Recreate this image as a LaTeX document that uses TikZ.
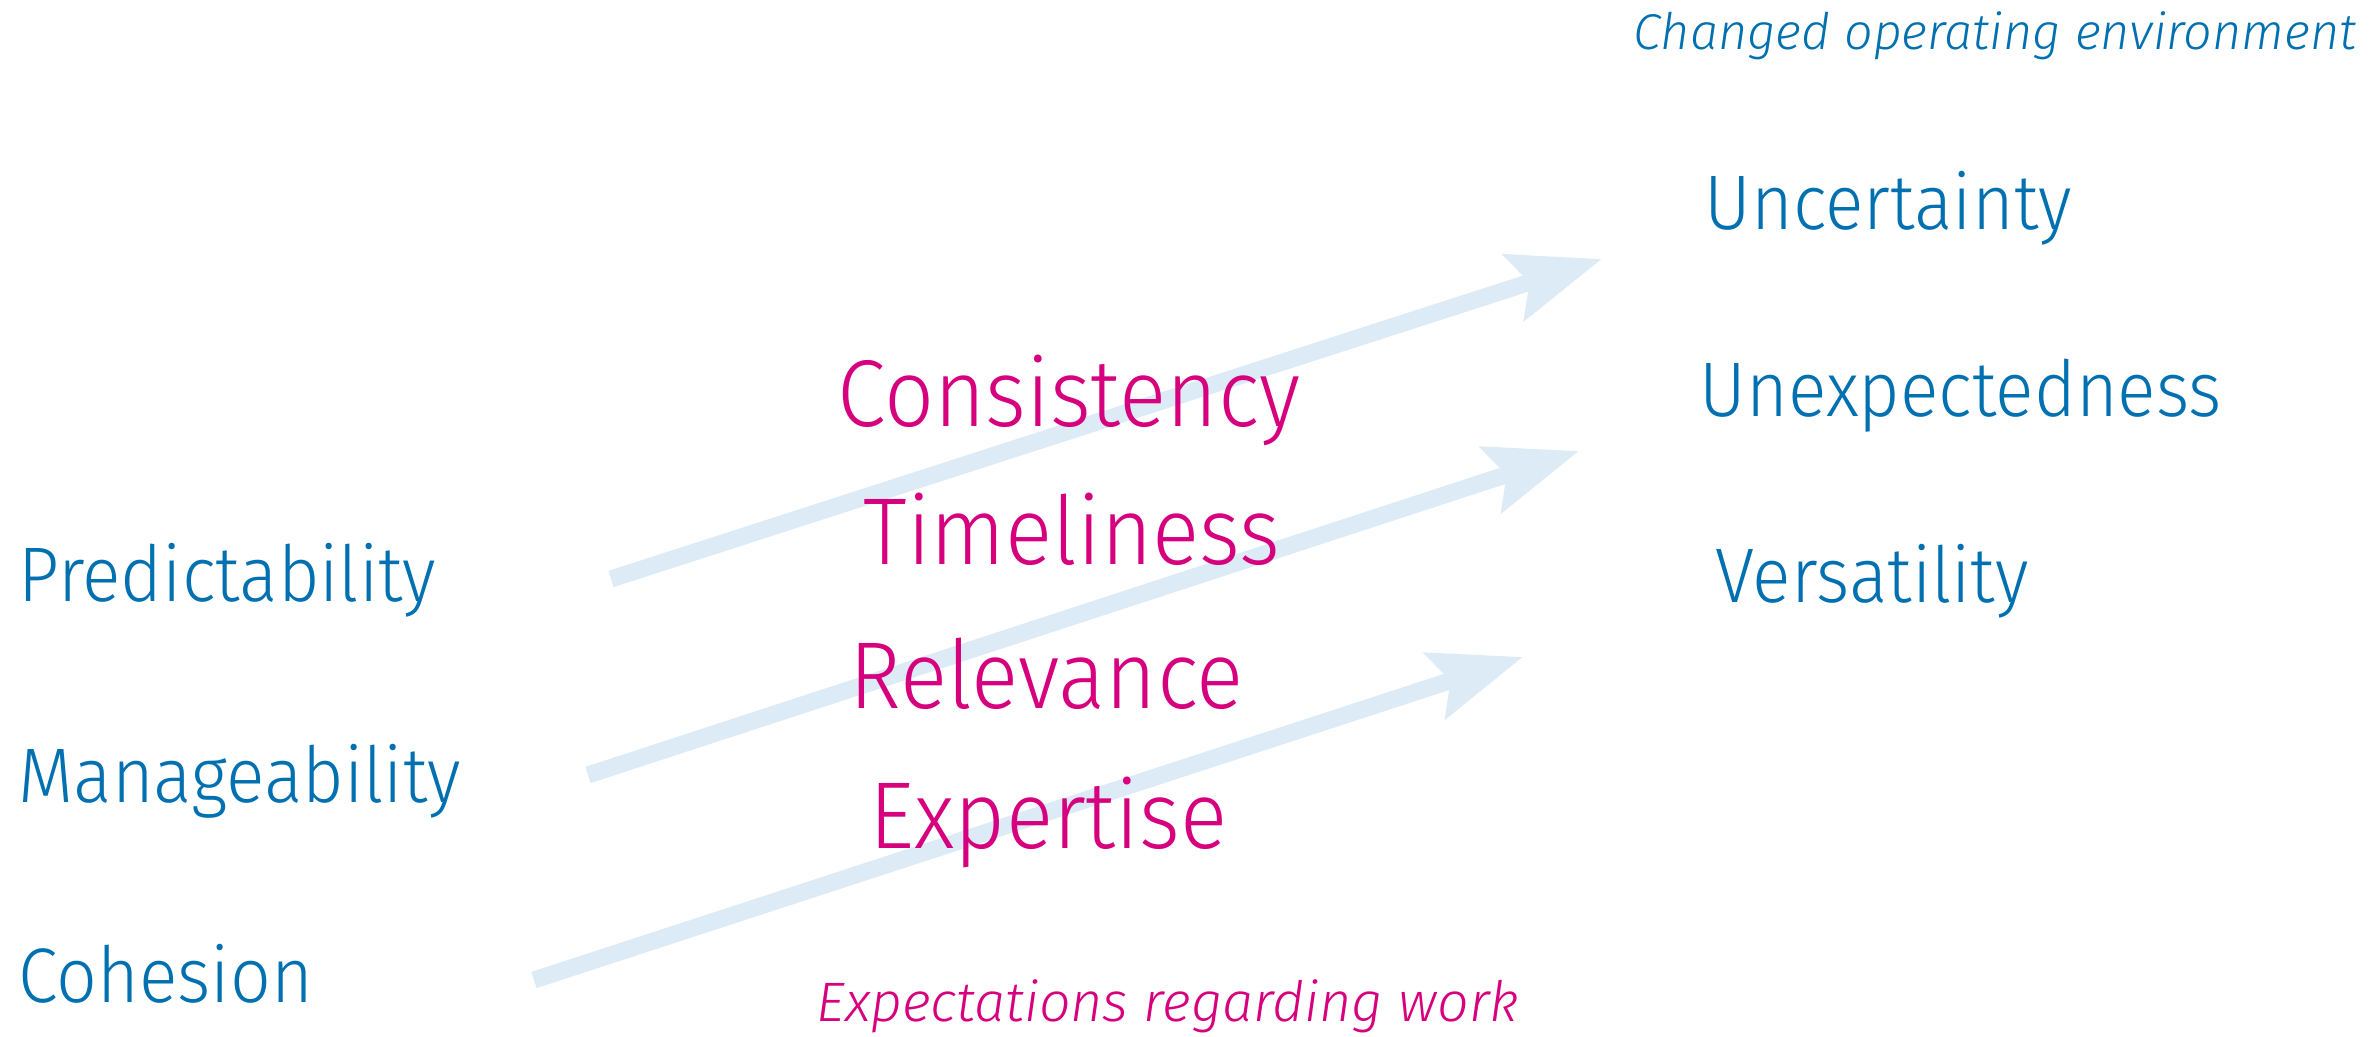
\documentclass[tikz,border=0pt]{standalone}
\usepackage{fontspec}
\setmainfont{Fira Sans Light}[FakeStretch=0.925]
\newfontfamily\capfont{Fira Sans Light Italic}
\usetikzlibrary{arrows.meta}
\definecolor{tblue}{RGB}{0,112,176}
\definecolor{tmag}{RGB}{214,0,127}
\definecolor{abluel}{RGB}{221,235,246}
\tikzset{
  bluew/.style={inner sep=0pt, anchor=base west, text=tblue, font=\fontsize{22}{26}\selectfont},
  magw/.style={inner sep=0pt, anchor=base west, text=tmag, font=\fontsize{27}{32}\selectfont},
  caption/.style={inner sep=0pt, anchor=base west},
  bigarrow/.style={draw=abluel, line width=0.17cm, line cap=butt,
    -{Stealth[length=0.92cm, width=0.68cm, inset=0.16cm]}},
}
\begin{document}
\begin{tikzpicture}[x=0.01cm, y=-0.01cm]
\useasboundingbox (0,0) rectangle (2377,1037);
% arrows
\coordinate (a1s) at (611,579); \coordinate (a1e) at (1602,259);
\coordinate (a2s) at (588,775); \coordinate (a2e) at (1579,451);
\coordinate (a3s) at (534,980); \coordinate (a3e) at (1523,657);
\draw[bigarrow] (a1s) -- (a1e);
\draw[bigarrow] (a2s) -- (a2e);
\draw[bigarrow] (a3s) -- (a3e);
% left
\node[bluew] (pred) at (18,602) {Predictability};
\node[bluew] (mana) at (18,803) {Manageability};
\node[bluew] (cohe) at (18,1003) {Cohesion};
% middle
\node[magw] (cons) at (837,427) {Consistency};
\node[magw] (time) at (863,565) {Timeliness};
\node[magw] (rele) at (849,709) {Relevance};
\node[magw] (expe) at (869,849) {Expertise};
\node[caption, text=tmag, font=\fontsize{15.8}{19}\capfont] (expw) at (816,1022) {Expectations regarding work};
% right
\node[caption, text=tblue, font=\fontsize{14.3}{17}\capfont] (chg) at (1633,50) {Changed operating environment};
\node[bluew] (unce) at (1704,230) {Uncertainty};
\node[bluew] (unex) at (1699,417) {Unexpectedness};
\node[bluew] (vers) at (1715,603) {Versatility};
\end{tikzpicture}
\end{document}
